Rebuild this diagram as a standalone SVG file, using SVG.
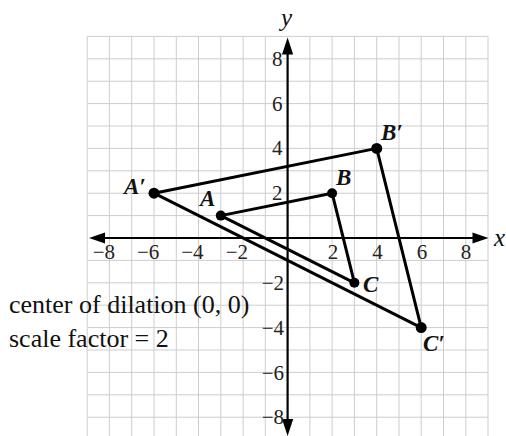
<svg xmlns="http://www.w3.org/2000/svg" width="506" height="436" viewBox="0 0 506 436">
<style>
.grid line{stroke:#cdcdcd;stroke-width:1}
.axis{stroke:#000;stroke-width:2.2;fill:none}
.edge{stroke:#000;stroke-width:3;fill:none;stroke-linecap:round}
.dot{fill:#000}
.tick{font-family:"Liberation Serif","Times New Roman",serif;font-size:21px;fill:#222}
.lbl{font-family:"Liberation Serif","Times New Roman",serif;font-size:23px;font-weight:bold;font-style:italic;fill:#111}
.note{font-family:"Liberation Serif","Times New Roman",serif;font-size:26px;fill:#111}
.ax{font-family:"Liberation Serif","Times New Roman",serif;font-size:25px;font-style:italic;fill:#111}
</style>
<rect width="506" height="436" fill="#fff"/>
<g class="grid">
<line x1="87.2" y1="36.4" x2="87.2" y2="436"/>
<line x1="109.4" y1="36.4" x2="109.4" y2="436"/>
<line x1="131.7" y1="36.4" x2="131.7" y2="436"/>
<line x1="154" y1="36.4" x2="154" y2="436"/>
<line x1="176.3" y1="36.4" x2="176.3" y2="436"/>
<line x1="198.5" y1="36.4" x2="198.5" y2="436"/>
<line x1="220.8" y1="36.4" x2="220.8" y2="436"/>
<line x1="243.1" y1="36.4" x2="243.1" y2="436"/>
<line x1="265.3" y1="36.4" x2="265.3" y2="436"/>
<line x1="309.9" y1="36.4" x2="309.9" y2="436"/>
<line x1="332.1" y1="36.4" x2="332.1" y2="436"/>
<line x1="354.4" y1="36.4" x2="354.4" y2="436"/>
<line x1="376.7" y1="36.4" x2="376.7" y2="436"/>
<line x1="399" y1="36.4" x2="399" y2="436"/>
<line x1="421.2" y1="36.4" x2="421.2" y2="436"/>
<line x1="443.5" y1="36.4" x2="443.5" y2="436"/>
<line x1="465.8" y1="36.4" x2="465.8" y2="436"/>
<line x1="488" y1="36.4" x2="488" y2="436"/>
<line x1="87.2" y1="36.4" x2="488" y2="36.4"/>
<line x1="87.2" y1="58.8" x2="488" y2="58.8"/>
<line x1="87.2" y1="81.2" x2="488" y2="81.2"/>
<line x1="87.2" y1="103.6" x2="488" y2="103.6"/>
<line x1="87.2" y1="126" x2="488" y2="126"/>
<line x1="87.2" y1="148.4" x2="488" y2="148.4"/>
<line x1="87.2" y1="170.8" x2="488" y2="170.8"/>
<line x1="87.2" y1="193.2" x2="488" y2="193.2"/>
<line x1="87.2" y1="215.6" x2="488" y2="215.6"/>
<line x1="87.2" y1="260.4" x2="488" y2="260.4"/>
<line x1="87.2" y1="282.8" x2="488" y2="282.8"/>
<line x1="87.2" y1="305.2" x2="488" y2="305.2"/>
<line x1="87.2" y1="327.6" x2="488" y2="327.6"/>
<line x1="87.2" y1="350" x2="488" y2="350"/>
<line x1="87.2" y1="372.4" x2="488" y2="372.4"/>
<line x1="87.2" y1="394.8" x2="488" y2="394.8"/>
<line x1="87.2" y1="417.2" x2="488" y2="417.2"/>
</g>
<g id="axes">
<line class="axis" x1="100" y1="238" x2="476" y2="238"/>
<line class="axis" x1="287.6" y1="50" x2="287.6" y2="424"/>
<polygon points="89,238 105,232.5 105,243.5" fill="#000"/>
<polygon points="488.5,238 472.5,232.5 472.5,243.5" fill="#000"/>
<polygon points="287.6,37.5 282,54.5 293.2,54.5" fill="#000"/>
<polygon points="287.6,436 282,419 293.2,419" fill="#000"/>
<text class="ax" x="494" y="246">x</text>
<text class="ax" x="281" y="26">y</text>
</g>
<g id="ticks" class="tick">
<text x="115" y="258.5" text-anchor="end">−8</text>
<text x="159.3" y="258.5" text-anchor="end">−6</text>
<text x="203.6" y="258.5" text-anchor="end">−4</text>
<text x="248" y="258.5" text-anchor="end">−2</text>
<text x="333" y="258.5" text-anchor="middle">2</text>
<text x="377.5" y="258.5" text-anchor="middle">4</text>
<text x="422" y="258.5" text-anchor="middle">6</text>
<text x="466" y="258.5" text-anchor="middle">8</text>
<text x="282.5" y="66" text-anchor="end">8</text>
<text x="282.5" y="110.6" text-anchor="end">6</text>
<text x="282.5" y="155.4" text-anchor="end">4</text>
<text x="282.5" y="200.2" text-anchor="end">2</text>
<text x="284" y="290" text-anchor="end">−2</text>
<text x="284" y="334.8" text-anchor="end">−4</text>
<text x="284" y="379.6" text-anchor="end">−6</text>
<text x="284" y="424.4" text-anchor="end">−8</text>
</g>
<g id="connectors">
<line class="edge" x1="220.8" y1="215.6" x2="332.1" y2="193.2"/>
<line class="edge" x1="332.1" y1="193.2" x2="354.4" y2="282.8"/>
<line class="edge" x1="354.4" y1="282.8" x2="220.8" y2="215.6"/>
<line class="edge" x1="154" y1="193.2" x2="376.7" y2="148.4"/>
<line class="edge" x1="376.7" y1="148.4" x2="421.2" y2="327.6"/>
<line class="edge" x1="421.2" y1="327.6" x2="154" y2="193.2"/>
</g>
<g id="A"><circle class="dot" cx="220.8" cy="215.6" r="5"/><text class="lbl" x="200" y="206">A</text></g>
<g id="B"><circle class="dot" cx="332.1" cy="193.2" r="5"/><text class="lbl" x="336" y="185">B</text></g>
<g id="C"><circle class="dot" cx="354.4" cy="282.8" r="5"/><text class="lbl" x="363" y="291.5">C</text></g>
<g id="A-prime"><circle class="dot" cx="154" cy="193.2" r="5.5"/><text class="lbl" x="124" y="194">A′</text></g>
<g id="B-prime"><circle class="dot" cx="376.7" cy="148.4" r="5.5"/><text class="lbl" x="381" y="140">B′</text></g>
<g id="C-prime"><circle class="dot" cx="421.2" cy="327.6" r="5.5"/><text class="lbl" x="423" y="350.5">C′</text></g>
<g id="notes">
<text class="note" x="9" y="313">center of dilation (0, 0)</text>
<text class="note" x="9" y="347">scale factor = 2</text>
</g>
</svg>
